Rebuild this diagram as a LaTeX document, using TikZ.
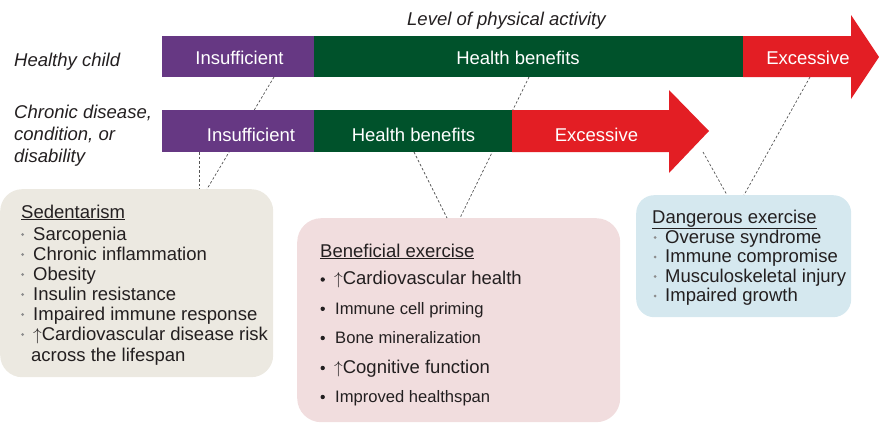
\documentclass[tikz,border=0pt]{standalone}
\usepackage{fontspec}
\setmainfont{Liberation Sans}
\usetikzlibrary{calc}
\definecolor{pur}{HTML}{663883}
\definecolor{grn}{HTML}{00522B}
\definecolor{rd}{HTML}{E31E24}
\definecolor{sedfill}{HTML}{ECE9E1}
\definecolor{benfill}{HTML}{F1DDDE}
\definecolor{danfill}{HTML}{D5E8EF}
\definecolor{txt}{HTML}{231F20}
\definecolor{bul}{HTML}{8C8C8C}
\definecolor{dashc}{HTML}{555555}
\newcommand{\fbig}{\fontsize{18.5}{22}\selectfont}
\newcommand{\fsml}{\fontsize{16.6}{20}\selectfont}
\begin{document}
\begin{tikzpicture}[x=1pt,y=-1pt,
  lbl/.style={inner sep=0pt, anchor=base west, text=txt, font=\fbig},
  sml/.style={inner sep=0pt, anchor=base west, text=txt, font=\fsml},
  barlbl/.style={inner sep=0pt, anchor=base, text=white, font=\fbig},
  gbul/.style={circle, fill=bul, draw=none, inner sep=0pt, minimum size=3pt},
  kbul/.style={circle, fill=txt, draw=none, inner sep=0pt, minimum size=4.4pt},
  seg/.style={draw=none, inner sep=0pt, anchor=north west},
  card/.style={draw=none, inner sep=0pt, anchor=north west},
  link/.style={draw=dashc, line width=0.7pt, dash pattern=on 2.5pt off 2pt}]
\useasboundingbox (0,0) rectangle (879,423);

% boxes
\node[card, fill=sedfill, rounded corners=22pt, minimum width=273pt, minimum height=188pt] (sed) at (0,189) {};
\node[card, fill=benfill, rounded corners=24pt, minimum width=323pt, minimum height=204pt] (ben) at (297,218) {};
\node[card, fill=danfill, rounded corners=18pt, minimum width=215pt, minimum height=122pt] (dan) at (636,195) {};

% connector end points
\coordinate (a1) at (274,77);
\coordinate (a2) at (207,189);
\coordinate (b1) at (199,152);
\coordinate (b2) at (199,189);
\coordinate (c1) at (529,77);
\coordinate (c2) at (460,218);
\coordinate (d1) at (414,152);
\coordinate (d2) at (447,218);
\coordinate (e1) at (810,77);
\coordinate (e2) at (744,195);
\coordinate (f1) at (703,152);
\coordinate (f2) at (727,195);
\draw[link] (a1) -- (a2);
\draw[link] (b1) -- (b2);
\draw[link] (c1) -- (c2);
\draw[link] (d1) -- (d2);
\draw[link] (e1) -- (e2);
\draw[link] (f1) -- (f2);

% top bar
\node[seg, fill=pur, minimum width=152pt, minimum height=41pt] (tI) at (162,36) {};
\node[seg, fill=grn, minimum width=429.5pt, minimum height=41pt] (tH) at (314,36) {};
\fill[rd] (743,36) -- (851,36) -- (851,15) -- (879,57) -- (851,99) -- (851,77) -- (743,77) -- cycle;
% bottom bar
\node[seg, fill=pur, minimum width=152pt, minimum height=42pt] (bI) at (162,110) {};
\node[seg, fill=grn, minimum width=198.5pt, minimum height=42pt] (bH) at (314,110) {};
\fill[rd] (512,110) -- (669,110) -- (669,90) -- (709,131) -- (669,173) -- (669,152) -- (512,152) -- cycle;

% bar labels
\node[barlbl] (tIl) at (239.5,64.5) {Insufficient};
\node[barlbl] (tHl) at (518,64.5) {Health benefits};
\node[barlbl] (tEl) at (808,64.5) {Excessive};
\node[barlbl] (bIl) at (251,141.5) {Insufficient};
\node[barlbl] (bHl) at (413.5,141.5) {Health benefits};
\node[barlbl] (bEl) at (596.5,141.5) {Excessive};

% side labels
\node[lbl, font=\fbig\itshape] (lvl) at (407,25.5) {Level of physical activity};
\node[lbl, font=\fbig\itshape] (hc) at (14,66) {Healthy child};
\node[lbl, font=\fbig\itshape] (cd1) at (14,118) {Chronic disease,};
\node[lbl, font=\fbig\itshape] (cd2) at (14,140) {condition, or};
\node[lbl, font=\fbig\itshape] (cd3) at (14,162) {disability};

% sedentarism
\node[lbl] (st) at (21,218) {\underline{Sedentarism}};
\foreach \t/\y [count=\i] in {Sarcopenia/240, Chronic inflammation/260, Obesity/280, Insulin resistance/300, Impaired immune response/320, {$\uparrow$Cardiovascular disease risk}/340} {
  \node[gbul] (sb\i) at (22.7,\y-5.5) {};
  \node[lbl] (si\i) at (33,\y) {\t};
}
\node[lbl] (si7) at (31,361) {across the lifespan};

% beneficial
\node[lbl] (bt) at (320,257) {\underline{Beneficial exercise}};
\node[kbul] (bb1) at (322.7,279.5) {};
\node[lbl] (bi1) at (334,284) {$\uparrow$Cardiovascular health};
\node[kbul] (bb2) at (322.7,308.8) {};
\node[sml] (bi2) at (335,314) {Immune cell priming};
\node[kbul] (bb3) at (322.7,338) {};
\node[sml] (bi3) at (335,343) {Bone mineralization};
\node[kbul] (bb4) at (322.7,368) {};
\node[lbl] (bi4) at (334,373) {$\uparrow$Cognitive function};
\node[kbul] (bb5) at (322.7,397) {};
\node[sml] (bi5) at (335,402) {Improved healthspan};

% dangerous
\node[lbl] (dt) at (652,223) {\underline{Dangerous exercise}};
\foreach \t/\y [count=\i] in {Overuse syndrome/243, Immune compromise/262.5, Musculoskeletal injury/282, Impaired growth/301.5} {
  \node[gbul] (db\i) at (655,\y-5.5) {};
  \node[lbl] (di\i) at (665,\y) {\t};
}
\end{tikzpicture}
\end{document}
